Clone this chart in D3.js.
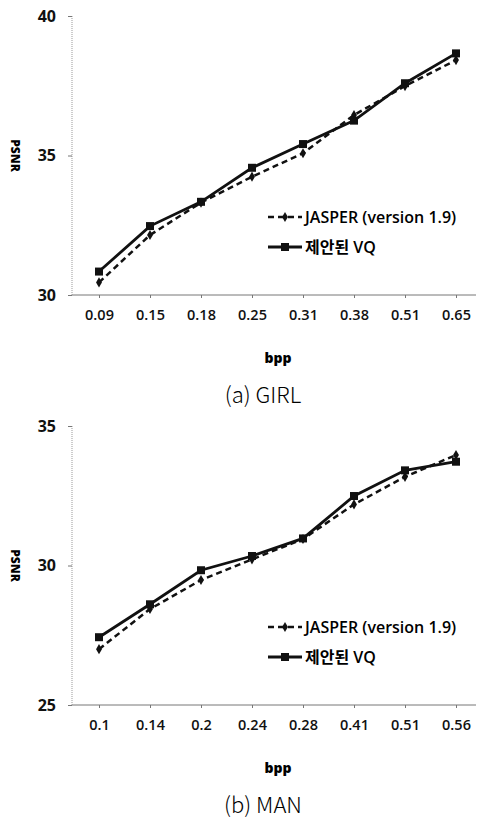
<!DOCTYPE html>
<html>
<head>
<meta charset="utf-8">
<script src="https://cdn.jsdelivr.net/npm/d3@7"></script>
<style>
  body { margin: 0; background: #fff; }
  svg { display: block; }
  .tick text { font-family: "Open Sans", sans-serif; font-weight: 600; fill: #111; }
</style>
</head>
<body>
<svg id="chart" width="478" height="819"></svg>
<script>
// (a) GIRL
const girlBpp = ["0.09", "0.15", "0.18", "0.25", "0.31", "0.38", "0.51", "0.65"];
const girlJasper = [30.45, 32.15, 33.31, 34.24, 35.08, 36.45, 37.49, 38.42];
const girlVQ = [30.84, 32.47, 33.34, 34.56, 35.41, 36.25, 37.59, 38.66];
const girlTicks = [30, 35, 40];

// (b) MAN
const manBpp = ["0.1", "0.14", "0.2", "0.24", "0.28", "0.41", "0.51", "0.56"];
const manJasper = [27.0, 28.44, 29.48, 30.22, 30.95, 32.19, 33.18, 33.96];
const manVQ = [27.43, 28.61, 29.83, 30.34, 30.97, 32.49, 33.41, 33.72];
const manTicks = [25, 30, 35];

const seriesNames = ["JASPER (version 1.9)", "제안된 VQ"];

const svg = d3.select("#chart");

function drawPanel(top, bpp, jasper, vq, ticks, caption) {
    let g = svg.append("g");
    let y0 = top + 279, y1 = top;   // bottom / top of plot

    let x = d3.scalePoint().domain(bpp).range([99, 456]);
    let y = d3.scaleLinear().domain([ticks[0], ticks[ticks.length - 1]]).range([y0, y1]);

    // axes
    g.append("line").attr("x1", 72).attr("x2", 476).attr("y1", y0).attr("y2", y0)
        .attr("stroke", "#777").attr("stroke-width", 1);
    g.append("line").attr("x1", 72).attr("x2", 72).attr("y1", y1).attr("y2", y0)
        .attr("stroke", "#999").attr("stroke-width", 1).attr("stroke-dasharray", "1,1");

    let xAxis = d3.axisBottom(x).tickSize(3).tickPadding(12);
    g.append("g").attr("transform", `translate(0,${y0})`).call(xAxis)
        .call(a => a.select(".domain").remove())
        .call(a => a.selectAll("line").attr("stroke", "#777"))
        .call(a => a.selectAll("text").style("font-size", "14.5px"));

    let yAxis = d3.axisLeft(y).tickValues(ticks).tickSize(4).tickPadding(12);
    g.append("g").attr("transform", "translate(72,0)").call(yAxis)
        .call(a => a.select(".domain").remove())
        .call(a => a.selectAll("line").attr("stroke", "#777"))
        .call(a => a.selectAll("text").style("font-size", "16px").style("font-weight", 700));

    // axis titles
    g.append("text").attr("transform", `translate(15,${(y0 + y1) / 2}) rotate(90)`)
        .attr("text-anchor", "middle").attr("dy", "0.35em")
        .style("font-family", "'Open Sans', sans-serif").style("font-weight", 800).style("font-size", "12px")
        .text("PSNR");
    g.append("text").attr("x", 278).attr("y", y0 + 68).attr("text-anchor", "middle")
        .style("font-family", "'Open Sans', sans-serif").style("font-weight", 800).style("font-size", "14px")
        .text("bpp");
    g.append("text").attr("x", 263).attr("y", y0 + 108).attr("text-anchor", "middle")
        .style("font-family", "'Noto Sans CJK KR', sans-serif").style("font-weight", 300).style("font-size", "22px")
        .text(caption);

    let line = d3.line().x((d, i) => x(bpp[i])).y(d => y(d));

    // JASPER dashed with diamonds
    g.append("path").datum(jasper).attr("d", line).attr("fill", "none")
        .attr("stroke", "#111").attr("stroke-width", 2.5).attr("stroke-dasharray", "6,4");
    g.selectAll(".dia").data(jasper).enter().append("path").attr("class", "dia")
        .attr("d", d3.symbol(d3.symbolDiamond, 30))
        .attr("transform", (d, i) => `translate(${x(bpp[i])},${y(d)})`).attr("fill", "#111");

    // VQ solid with squares
    g.append("path").datum(vq).attr("d", line).attr("fill", "none")
        .attr("stroke", "#111").attr("stroke-width", 2.8);
    g.selectAll(".sq").data(vq).enter().append("rect").attr("class", "sq")
        .attr("x", (d, i) => x(bpp[i]) - 4).attr("y", d => y(d) - 4)
        .attr("width", 8).attr("height", 8).attr("fill", "#111");

    // legend
    let lg = g.append("g").attr("transform", `translate(268,${top + 201})`);
    lg.append("line").attr("x1", 0).attr("x2", 34).attr("y1", 0).attr("y2", 0)
        .attr("stroke", "#111").attr("stroke-width", 2.5).attr("stroke-dasharray", "6,4");
    lg.append("path").attr("d", d3.symbol(d3.symbolDiamond, 30)).attr("transform", "translate(17,0)").attr("fill", "#111");
    lg.append("line").attr("x1", 0).attr("x2", 34).attr("y1", 30).attr("y2", 30)
        .attr("stroke", "#111").attr("stroke-width", 2.8);
    lg.append("rect").attr("x", 13).attr("y", 26).attr("width", 8).attr("height", 8).attr("fill", "#111");
    lg.selectAll("text").data(seriesNames).enter().append("text")
        .attr("x", 37).attr("y", (d, i) => i * 30).attr("dy", "0.35em")
        .style("font-family", "'Open Sans', 'Noto Sans CJK KR', sans-serif").style("font-weight", 600).style("font-size", "16px")
        .text(d => d);
}

drawPanel(16, girlBpp, girlJasper, girlVQ, girlTicks, "(a) GIRL");
drawPanel(426, manBpp, manJasper, manVQ, manTicks, "(b) MAN");
</script>
</body>
</html>
